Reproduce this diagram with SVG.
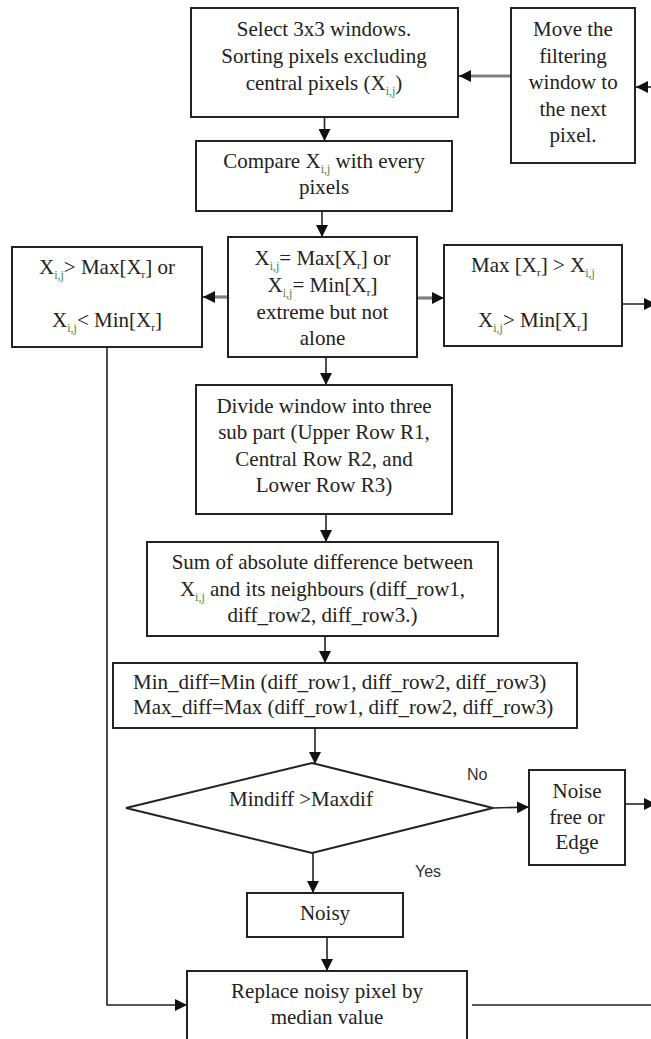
<svg xmlns="http://www.w3.org/2000/svg" width="651" height="1039" viewBox="0 0 651 1039">
<defs>
<style>
.box{fill:#fff;stroke:#222;stroke-width:2}
.t{font-family:"Liberation Serif","Times New Roman",serif;font-size:21px;fill:#222;text-anchor:middle}
.ts{font-family:"Liberation Serif","Times New Roman",serif;font-size:21px;fill:#222;text-anchor:start}
.lbl{font-family:"Liberation Sans",Arial,sans-serif;font-size:16px;fill:#333}
.sub{font-size:12px;fill:#3a8a4a}
.subr{font-size:11px}
.c{fill:none;stroke:#222;stroke-width:1.6}
.g{fill:none;stroke:#808080;stroke-width:3.2}
</style>
<marker id="ah" viewBox="0 0 12 12" refX="12" refY="6" markerWidth="12" markerHeight="12" markerUnits="userSpaceOnUse" orient="auto">
<path d="M0,0 L12,6 L0,12 z" fill="#111"/>
</marker>
</defs>
<rect width="651" height="1039" fill="#fff"/>

<g id="connectors">
<line class="c" x1="324.5" y1="117" x2="324.5" y2="141" marker-end="url(#ah)"/>
<line class="g" x1="511" y1="76" x2="470" y2="76"/>
<line class="c" x1="470" y1="76" x2="459" y2="76" marker-end="url(#ah)"/>
<line class="c" x1="651" y1="87" x2="636" y2="87" marker-end="url(#ah)"/>
<line class="c" x1="322" y1="211" x2="322" y2="237" marker-end="url(#ah)"/>
<line class="g" x1="228" y1="297" x2="212" y2="297"/>
<line class="c" x1="212" y1="297" x2="203" y2="297" marker-end="url(#ah)"/>
<line class="g" x1="417" y1="298" x2="434" y2="298"/>
<line class="c" x1="434" y1="298" x2="444" y2="298" marker-end="url(#ah)"/>
<line class="c" x1="622" y1="304" x2="656" y2="304" marker-end="url(#ah)"/>
<line class="c" x1="326" y1="357" x2="326" y2="385" marker-end="url(#ah)"/>
<line class="c" x1="326" y1="514" x2="326" y2="542" marker-end="url(#ah)"/>
<line class="c" x1="325" y1="636" x2="325" y2="663" marker-end="url(#ah)"/>
<line class="c" x1="315" y1="728" x2="315" y2="764" marker-end="url(#ah)"/>
<line class="c" x1="493" y1="808" x2="529" y2="807" marker-end="url(#ah)"/>
<line class="c" x1="625" y1="804" x2="656" y2="804" marker-end="url(#ah)"/>
<line class="c" x1="313" y1="845" x2="313" y2="893" marker-end="url(#ah)"/>
<line class="c" x1="327" y1="937" x2="327" y2="971" marker-end="url(#ah)"/>
<polyline class="c" points="107,347 107,1005 187,1005" marker-end="url(#ah)"/>
<line class="c" x1="472" y1="1005" x2="651" y2="1005"/>
</g>

<g id="select">
<rect class="box" x="191" y="8" width="267" height="109"/>
<text class="t" x="324" y="36">Select 3x3 windows.</text>
<text class="t" x="324" y="63">Sorting pixels excluding</text>
<text class="t" x="324" y="90">central pixels (X<tspan class="sub" dy="5">i,j</tspan><tspan dy="-5">)</tspan></text>
</g>

<g id="move">
<rect class="box" x="511" y="8" width="124" height="155"/>
<text class="t" x="573" y="36">Move the</text>
<text class="t" x="573" y="62.5">filtering</text>
<text class="t" x="573" y="89">window to</text>
<text class="t" x="573" y="115.5">the next</text>
<text class="t" x="573" y="142">pixel.</text>
</g>

<g id="compare">
<rect class="box" x="196" y="141" width="256" height="70"/>
<text class="t" x="324" y="168">Compare X<tspan class="sub" dy="5">i,j</tspan><tspan dy="-5"> with every</tspan></text>
<text class="t" x="324" y="194">pixels</text>
</g>

<g id="extreme">
<rect class="box" x="228" y="237" width="189" height="120"/>
<text class="t" x="322.5" y="265">X<tspan class="sub" dy="5">i,j</tspan><tspan dy="-5">= Max[X</tspan><tspan class="subr" dy="4">r</tspan><tspan dy="-4">] or</tspan></text>
<text class="t" x="322.5" y="292">X<tspan class="sub" dy="5">i,j</tspan><tspan dy="-5">= Min[X</tspan><tspan class="subr" dy="4">r</tspan><tspan dy="-4">]</tspan></text>
<text class="t" x="322.5" y="318.5">extreme but not</text>
<text class="t" x="322.5" y="345">alone</text>
</g>

<g id="outside">
<rect class="box" x="12" y="247" width="190" height="100"/>
<text class="t" x="107" y="274">X<tspan class="sub" dy="5">i,j</tspan><tspan dy="-5">&gt; Max[X</tspan><tspan class="subr" dy="4">r</tspan><tspan dy="-4">] or</tspan></text>
<text class="t" x="107" y="327">X<tspan class="sub" dy="5">i,j</tspan><tspan dy="-5">&lt; Min[X</tspan><tspan class="subr" dy="4">r</tspan><tspan dy="-4">]</tspan></text>
</g>

<g id="inside">
<rect class="box" x="444" y="245" width="178" height="101"/>
<text class="t" x="533" y="272">Max [X<tspan class="subr" dy="4">r</tspan><tspan dy="-4">] &gt; X</tspan><tspan class="sub" dy="5">i,j</tspan></text>
<text class="t" x="533" y="327">X<tspan class="sub" dy="5">i,j</tspan><tspan dy="-5">&gt; Min[X</tspan><tspan class="subr" dy="4">r</tspan><tspan dy="-4">]</tspan></text>
</g>

<g id="divide">
<rect class="box" x="196" y="385" width="256" height="129"/>
<text class="t" x="324" y="413">Divide window into three</text>
<text class="t" x="324" y="439">sub part (Upper Row R1,</text>
<text class="t" x="324" y="466">Central Row R2, and</text>
<text class="t" x="324" y="492">Lower Row R3)</text>
</g>

<g id="sum">
<rect class="box" x="147" y="542" width="351" height="94"/>
<text class="t" x="322.5" y="569">Sum of absolute difference between</text>
<text class="t" x="322.5" y="596">X<tspan class="sub" dy="5">i,j</tspan><tspan dy="-5"> and its neighbours (diff_row1,</tspan></text>
<text class="t" x="322.5" y="622">diff_row2, diff_row3.)</text>
</g>

<g id="minmax">
<rect class="box" x="113" y="663" width="464" height="65"/>
<text class="ts" x="133" y="689">Min_diff=Min (diff_row1, diff_row2, diff_row3)</text>
<text class="ts" x="133" y="714">Max_diff=Max (diff_row1, diff_row2, diff_row3)</text>
</g>

<g id="decision">
<polygon class="box" points="312,763 493,808 312,853 126,808"/>
<text class="t" x="301" y="806">Mindiff &gt;Maxdif</text>
<text class="lbl" x="467" y="780">No</text>
<text class="lbl" x="415" y="877">Yes</text>
</g>

<g id="noisefree">
<rect class="box" x="529" y="770" width="96" height="95"/>
<text class="t" x="577" y="798">Noise</text>
<text class="t" x="577" y="824">free or</text>
<text class="t" x="577" y="849">Edge</text>
</g>

<g id="noisy">
<rect class="box" x="247" y="893" width="156" height="44"/>
<text class="t" x="325" y="920">Noisy</text>
</g>

<g id="replace">
<rect class="box" x="187" y="971" width="280" height="80"/>
<text class="t" x="327" y="998">Replace noisy pixel by</text>
<text class="t" x="327" y="1024">median value</text>
</g>
</svg>
